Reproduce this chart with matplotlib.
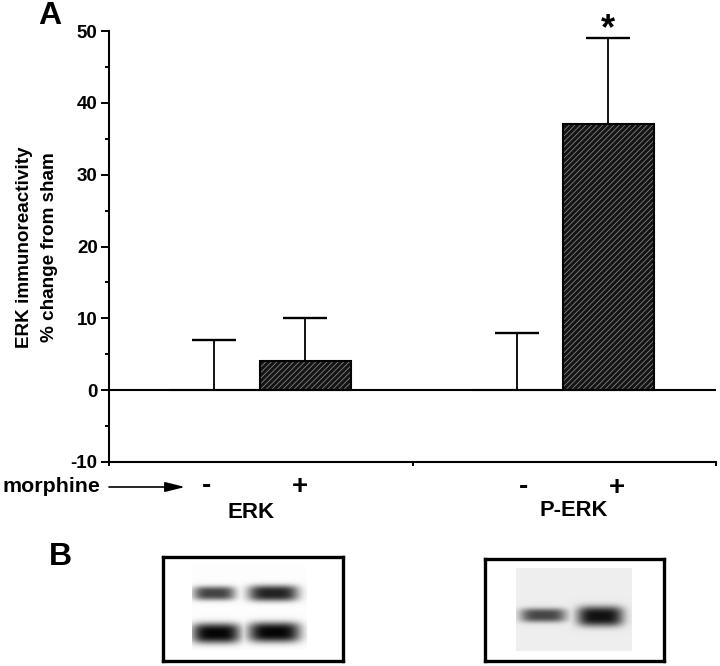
import matplotlib
matplotlib.use('Agg')
import matplotlib.pyplot as plt
import numpy as np

plt.rcParams['font.family'] = ['Liberation Sans', 'DejaVu Sans']
plt.rcParams['font.weight'] = 'bold'
plt.rcParams['hatch.linewidth'] = 0.55
plt.rcParams['axes.unicode_minus'] = False

W, H = 720, 666

# chart values
bar_x = [0.345, 0.645, 1.344, 1.644]
bar_means = [0, 4, 0, 37]
bar_err = [7, 6, 8, 12]
y_major = [-10, 0, 10, 20, 30, 40, 50]
y_minor = [-5, 5, 15, 25, 35, 45]
x_ticks = [0, 1, 2]
treat_labels = ['-', '+', '-', '+']
group_labels = ['ERK', 'P-ERK']

# blot bands: x centre, y centre, half width, half height, darkness (picture pixels)
erk_x = [214, 273, 216, 274]
erk_y = [593, 593, 633, 632]
erk_w = [21, 25, 24, 26]
erk_h = [7, 8, 10, 10]
erk_d = [0.75, 0.88, 1.0, 1.0]
perk_x = [543, 600]
perk_y = [615, 616]
perk_w = [23, 23]
perk_h = [7, 10]
perk_d = [0.72, 0.95]


def fx(px):
    return px / W


def fy(py):
    return 1 - py / H


def blot(box, img, bg, xs, ys, ws, hs, ds):
    # box and img are (left, top, right, bottom) in pixels
    ax = plt.axes([fx(box[0]), fy(box[3]), (box[2] - box[0]) / W, (box[3] - box[1]) / H])
    xx, yy = np.meshgrid(np.arange(img[0], img[2], 0.5), np.arange(img[1], img[3], 0.5))
    dark = np.zeros_like(xx)
    for x, y, w, h, d in zip(xs, ys, ws, hs, ds):
        dark = np.maximum(dark, d * np.exp(-((np.abs(xx - x) / w) ** 4 + (np.abs(yy - y) / h) ** 3)))
    ax.imshow(bg * (1 - dark) + 0.02, cmap='gray', vmin=0, vmax=1, aspect='auto',
              extent=[img[0], img[2], img[3], img[1]], interpolation='bilinear')
    ax.set_xlim(box[0], box[2])
    ax.set_ylim(box[3], box[1])
    ax.set_xticks([])
    ax.set_yticks([])
    for s in ax.spines.values():
        s.set_linewidth(2.4)


fig = plt.figure(figsize=(W / 100, H / 100), dpi=100)
ax = plt.axes([fx(109.5), fy(462), (716 - 109.5) / W, (462 - 31) / H])

ax.bar(bar_x, bar_means, width=0.3, color='#141414', edgecolor='#8a8a8a', hatch='//////', linewidth=0, zorder=2)
ax.bar(bar_x, bar_means, width=0.3, fill=False, edgecolor='black', linewidth=1.5, zorder=3)
err = ax.errorbar(bar_x, bar_means, yerr=[[0] * 4, bar_err], fmt='none', ecolor='black', elinewidth=1.3,
                  capsize=16, capthick=1.7, zorder=1)
err[1][0].set_visible(False)  # only the upper caps
ax.axhline(0, color='black', linewidth=1.5, zorder=4)

ax.set_xlim(0, 2)
ax.set_ylim(-10, 50)
ax.set_yticks(y_major)
ax.set_yticks(y_minor, minor=True)
ax.set_xticks(x_ticks)
ax.set_xticklabels([])
ax.spines['top'].set_visible(False)
ax.spines['right'].set_visible(False)
ax.spines['left'].set_linewidth(1.5)
ax.spines['bottom'].set_linewidth(1.5)
ax.tick_params(axis='y', which='major', length=6, width=1.4, labelsize=13.5, pad=2.5)
ax.tick_params(axis='y', which='minor', length=3, width=1.4)
ax.tick_params(axis='x', length=3, width=1.4)

fig.text(fx(25), fy(247), 'ERK immunoreactivity', rotation=90, ha='center', va='center', fontsize=13.6)
fig.text(fx(50), fy(247), '% change from sham', rotation=90, ha='center', va='center', fontsize=13.6)
fig.text(fx(50), fy(16), 'A', ha='center', va='center', fontsize=23)
fig.text(fx(60), fy(557), 'B', ha='center', va='center', fontsize=23)

fig.text(fx(100), fy(487), 'morphine', ha='right', va='center', fontsize=15.4)
ax.annotate('', xy=(fx(185), fy(487)), xytext=(fx(109), fy(487)), xycoords='figure fraction',
            annotation_clip=False, arrowprops=dict(arrowstyle='-|>,head_length=1.2,head_width=0.3',
                                                   color='black', lw=1.2, shrinkA=0, shrinkB=0))
for px, py, lab in zip([207, 300, 523, 617], [486, 487, 487, 488], treat_labels):
    fig.text(fx(px), fy(py), lab, ha='center', va='center', fontsize=20)
fig.text(fx(251), fy(513), group_labels[0], ha='center', va='center', fontsize=16)
fig.text(fx(574), fy(511), group_labels[1], ha='center', va='center', fontsize=15.8)
fig.text(fx(608), fy(30), '*', ha='center', va='center', fontsize=26)

blot((163, 557, 343, 661), (192, 565, 307, 650), 0.97, erk_x, erk_y, erk_w, erk_h, erk_d)
blot((485, 559, 664, 661), (516, 568, 632, 651), 0.91, perk_x, perk_y, perk_w, perk_h, perk_d)

plt.savefig('out.png', dpi=100)
